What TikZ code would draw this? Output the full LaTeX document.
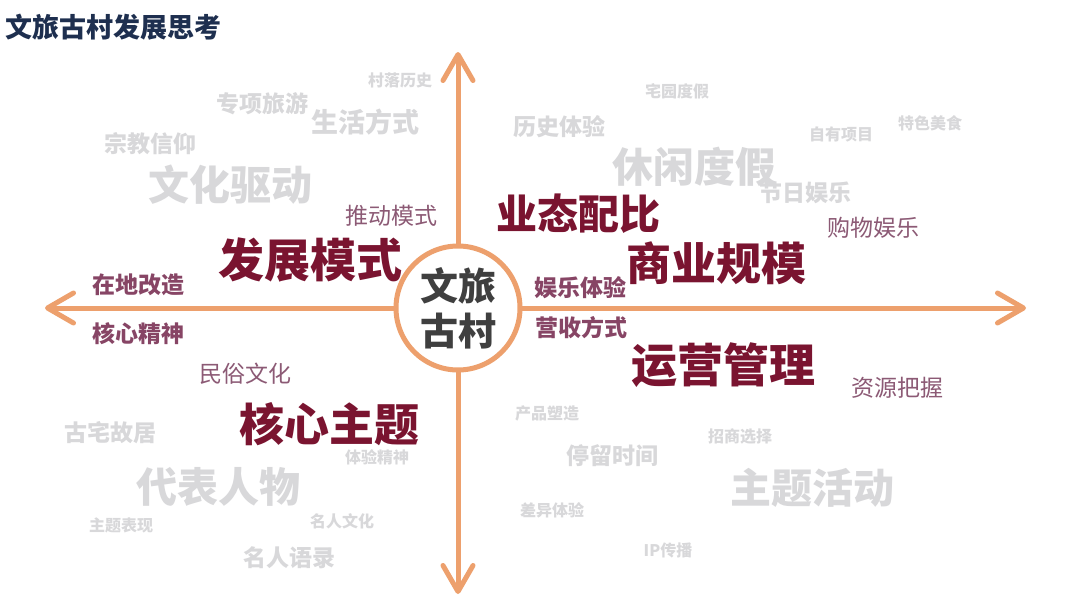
\documentclass[tikz,border=0pt]{standalone}
\usepackage{fontspec}
\newfontfamily\cjk{Noto Sans CJK SC}
\usetikzlibrary{arrows.meta}
\definecolor{axisc}{HTML}{EDA06D}
\definecolor{deepred}{HTML}{7A1430}
\definecolor{mauve}{HTML}{874565}
\definecolor{litemauve}{HTML}{8C5A75}
\definecolor{faint}{HTML}{D8D8DA}
\definecolor{titlec}{HTML}{1E2F4F}
\definecolor{centerc}{HTML}{3F3F3F}
\tikzset{
  axis/.style={draw=axisc, line width=5pt, line cap=round, -{Straight Barb[length=26pt,width=30pt,round]}},
  keyw/.style={inner sep=0pt, text=deepred, font={\cjk\bfseries\fontsize{#1}{#1}\selectfont}},
  midw/.style={inner sep=0pt, text=mauve, font={\cjk\bfseries\fontsize{#1}{#1}\selectfont}},
  litew/.style={inner sep=0pt, text=litemauve, font={\cjk\fontsize{#1}{#1}\selectfont}},
  bgw/.style={inner sep=0pt, text=faint, font={\cjk\bfseries\fontsize{#1}{#1}\selectfont}},
  hub/.style={circle, draw=axisc, line width=5pt, fill=white, minimum size=124pt, inner sep=0pt,
    align=center, text=centerc, font={\cjk\bfseries\fontsize{38}{45}\selectfont}},
}
\begin{document}
\begin{tikzpicture}[x=1pt,y=-1pt]
\useasboundingbox[fill=white] (0,0) rectangle (1080,595);
% title
\node[anchor=west, inner sep=0pt, text=titlec, font={\cjk\bfseries\fontsize{27}{27}\selectfont}] (title) at (5,27) {文旅古村发展思考};
% background words
\node[bgw=16] (w1) at (400,80) {村落历史};
\node[bgw=23] (w2) at (262,104) {专项旅游};
\node[bgw=27] (w3) at (365,122) {生活方式};
\node[bgw=23] (w4) at (150,144) {宗教信仰};
\node[bgw=41] (w5) at (230,185) {文化驱动};
\node[bgw=23] (w6) at (559,127) {历史体验};
\node[bgw=16] (w7) at (677,91) {宅园度假};
\node[bgw=16] (w8) at (841,134) {自有项目};
\node[bgw=16] (w9) at (930,123) {特色美食};
\node[bgw=41] (w10) at (694,167) {休闲度假};
\node[bgw=23] (w11) at (805,193) {节日娱乐};
\node[bgw=23] (w12) at (110,433) {古宅故居};
\node[bgw=41] (w13) at (218,487) {代表人物};
\node[bgw=16] (w14) at (377,457) {体验精神};
\node[bgw=16] (w15) at (121,525) {主题表现};
\node[bgw=16] (w16) at (342,521) {名人文化};
\node[bgw=23] (w17) at (289,558) {名人语录};
\node[bgw=16] (w18) at (547,413) {产品塑造};
\node[bgw=23] (w19) at (612,456) {停留时间};
\node[bgw=16] (w20) at (740,436) {招商选择};
\node[bgw=41] (w21) at (812,488) {主题活动};
\node[bgw=16] (w22) at (552,510) {差异体验};
\node[bgw=16] (w23) at (668,550) {IP传播};
% axes
\node[hub] (c) at (458,308) {文旅\\古村};
\coordinate (top) at (458,52);
\coordinate (bot) at (458,594);
\coordinate (lft) at (45,308);
\coordinate (rgt) at (1026,308);
\draw[axis] (c) -- (top);
\draw[axis] (c) -- (bot);
\draw[axis] (c) -- (lft);
\draw[axis] (c) -- (rgt);
% key words
\node[keyw=46] (k1) at (310,260) {发展模式};
\node[keyw=41] (k2) at (578,214) {业态配比};
\node[keyw=45] (k3) at (716,263) {商业规模};
\node[keyw=46] (k4) at (723,365) {运营管理};
\node[keyw=45] (k5) at (329,424) {核心主题};
% medium words
\node[midw=23] (m1) at (138,285) {在地改造};
\node[midw=23] (m2) at (138,334) {核心精神};
\node[midw=23] (m3) at (580,288) {娱乐体验};
\node[midw=23] (m4) at (581,328) {营收方式};
% light words
\node[litew=23] (l1) at (391,216) {推动模式};
\node[litew=23] (l2) at (873,228) {购物娱乐};
\node[litew=23] (l3) at (245,374) {民俗文化};
\node[litew=23] (l4) at (897,388) {资源把握};
\end{tikzpicture}
\end{document}
